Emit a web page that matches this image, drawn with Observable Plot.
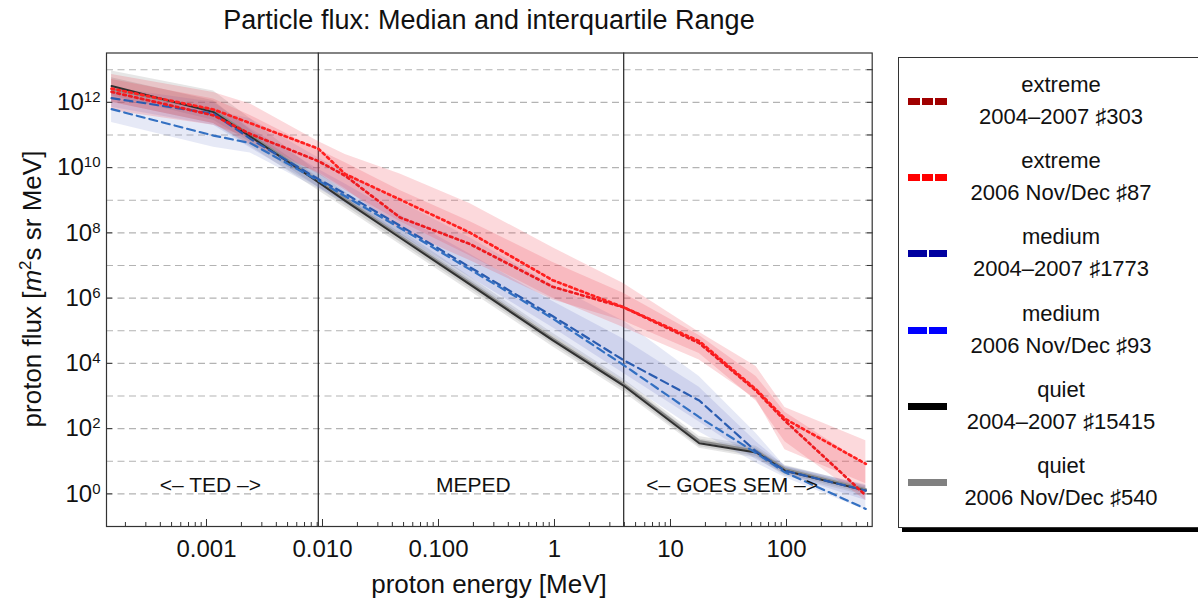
<!DOCTYPE html>
<html>
<head>
<meta charset="utf-8">
<script src="https://cdn.jsdelivr.net/npm/d3@7"></script>
<script src="https://cdn.jsdelivr.net/npm/@observablehq/plot@0.6"></script>
<style>
  body { margin: 0; background: #fff; font-family: "Liberation Sans", Arial, Helvetica, sans-serif; overflow: hidden; }
  #wrap { position: relative; width: 1198px; height: 601px; overflow: hidden; }
  #title { position: absolute; left: 106px; width: 766px; top: 0; height: 40px; box-sizing: border-box; padding-top: 7px;
           text-align: center; font-size: 27px; line-height: 27px; color: #111; }
  #chart { position: absolute; left: 0; top: 40px; }
  #legend { position: absolute; left: 898px; top: 57px; width: 330px; height: 471px; box-sizing: border-box;
            border: 1.3px solid #333; box-shadow: 4px 4px 0 #000; background: #fff; }
  .sw { position: absolute; left: 9px; height: 7px; display: flex; gap: 2px; }
  .sw div { height: 7px; }
  .lt { position: absolute; left: 58px; width: 208px; text-align: center; font-size: 22px; line-height: 22px; color: #111; white-space: nowrap; }
</style>
</head>
<body>
<div id="wrap">
  <div id="title">Particle flux: Median and interquartile Range</div>
  <div id="chart"></div>
  <div id="legend"></div>
</div>
<script>
// ---------------- data ----------------
// energy nodes [MeV]
const energyMeV = [1.52e-4, 1.15e-3, 2.39e-3, 9.2e-3, 1.57e-2, 4.66e-2, 0.186, 0.96, 3.93, 17.7, 54.7, 97, 483];

// log10 of proton flux: medians
const extreme0407Med = [12.32, 11.6, 11.03, 10.2, 9.75, 8.47, 7.66, 6.35, 5.72, 4.62, 3.16, 2.24, -0.05];
const extreme2006Med = [12.42, 11.78, 11.36, 10.58, 9.8, 9.02, 8.01, 6.55, 5.72, 4.68, 3.2, 2.3, 0.92];
const medium0407Med  = [12.13, 11.65, 10.88, 9.65, 9.2, 8.22, 6.95, 5.45, 4.1, 2.86, 1.3, 0.71, 0.10];
const medium2006Med  = [11.79, 10.98, 10.75, 9.6, 9.12, 8.15, 6.88, 5.38, 3.95, 2.35, 1.25, 0.66, -0.46];
const quiet0407Med   = [12.5, 11.7, 10.95, 9.55, 8.98, 7.85, 6.42, 4.71, 3.32, 1.55, 1.27, 0.71, 0.10];
const quiet2006Med   = [12.4, 11.75, 11.0, 9.6, 9.03, 7.9, 6.47, 4.76, 3.37, 1.62, 1.32, 0.76, 0.14];

// log10 of proton flux: interquartile range (lower / upper quartile)
const extreme2006Lo = [11.75, 11.3, 10.9, 9.8, 9.3, 8.35, 7.3, 6.0, 5.1, 4.1, 2.9, 1.35, 0.31];
const extreme2006Hi = [12.85, 12.3, 11.95, 10.8, 10.4, 9.8, 8.9, 7.55, 6.45, 4.95, 3.9, 2.65, 1.63];
const extreme0407Lo = [12.0, 11.35, 10.7, 9.85, 9.35, 8.1, 7.15, 5.95, 5.3, 4.3, 2.85, 1.6, -0.2];
const extreme0407Hi = [12.7, 12.1, 11.6, 10.55, 10.15, 9.3, 8.35, 7.1, 6.15, 4.85, 3.6, 2.5, 0.9];
const medium0407Lo  = [11.85, 11.3, 10.6, 9.4, 8.95, 7.95, 6.65, 5.1, 3.7, 2.2, 1.05, 0.6, -0.2];
const medium0407Hi  = [12.45, 12.0, 11.2, 9.95, 9.5, 8.55, 7.35, 5.9, 4.75, 3.27, 1.6, 0.85, 0.28];
const medium2006Lo  = [11.38, 10.62, 10.45, 9.35, 8.9, 7.85, 6.5, 4.85, 3.45, 1.9, 0.95, 0.5, -0.5];
const medium2006Hi  = [12.3, 11.75, 11.5, 10.3, 9.85, 8.95, 7.85, 6.4, 5.3, 3.6, 1.85, 0.85, 0.25];
const quiet0407Lo   = [12.2, 11.45, 10.78, 9.4, 8.84, 7.72, 6.3, 4.6, 3.2, 1.45, 1.15, 0.6, 0.0];
const quiet0407Hi   = [12.75, 12.05, 11.15, 9.7, 9.13, 8.0, 6.57, 4.85, 3.45, 1.68, 1.4, 0.82, 0.2];
const quiet2006Lo   = [12.0, 11.35, 10.65, 9.3, 8.76, 7.64, 6.22, 4.52, 3.12, 1.4, 1.1, 0.55, -0.05];
const quiet2006Hi   = [12.96, 12.35, 11.5, 9.85, 9.25, 8.1, 6.66, 4.93, 3.52, 1.76, 1.46, 0.88, 0.25];

// instrument boundaries [MeV] and region labels
const boundaryMeV = [0.0092, 3.95];
const regionNames = ["<\u2013 TED \u2013>", "MEPED", "<\u2013 GOES SEM \u2013>"];
const regionCenterMeV = [0.00108, 0.2, 34];
const regionLabelFlux = 1.9;

// axes
const xTickValues = [0.001, 0.01, 0.1, 1, 10, 100];
const xTickLabels = ["0.001", "0.010", "0.100", "1", "10", "100"];
const yTickValues = [1, 1e2, 1e4, 1e6, 1e8, 1e10, 1e12];
const yTickExponents = ["0", "2", "4", "6", "8", "10", "12"];
const yGridValues = [1, 1e1, 1e2, 1e3, 1e4, 1e5, 1e6, 1e7, 1e8, 1e9, 1e10, 1e11, 1e12, 1e13];
const xDomain = [1.374e-4, 548];
const yDomain = [0.1, 3.25e13];

// legend
const legendTitles = ["extreme", "extreme", "medium", "medium", "quiet", "quiet"];
const legendSubtitles = ["2004\u20132007 \u266F303", "2006 Nov/Dec \u266F87", "2004\u20132007 \u266F1773",
                         "2006 Nov/Dec \u266F93", "2004\u20132007 \u266F15415", "2006 Nov/Dec \u266F540"];
const legendColors = ["#a00000", "#ff0000", "#0000a0", "#0000ff", "#000000", "#808080"];
const legendDashCounts = [3, 3, 2, 2, 1, 1];

// ---------------- build ----------------
function rows(med, lo, hi) {
  return energyMeV.map((E, i) => ({E, med: 10 ** med[i], lo: 10 ** lo[i], hi: 10 ** hi[i]}));
}
const quiet0407 = rows(quiet0407Med, quiet0407Lo, quiet0407Hi);
const quiet2006 = rows(quiet2006Med, quiet2006Lo, quiet2006Hi);
const medium0407 = rows(medium0407Med, medium0407Lo, medium0407Hi);
const medium2006 = rows(medium2006Med, medium2006Lo, medium2006Hi);
const extreme0407 = rows(extreme0407Med, extreme0407Lo, extreme0407Hi);
const extreme2006 = rows(extreme2006Med, extreme2006Lo, extreme2006Hi);

const xMinorTicks = [];
for (const dec of [1e-4, 1e-3, 1e-2, 1e-1, 1, 10, 100]) {
  for (let m = 2; m <= 9; m++) {
    const v = m * dec;
    if (v >= xDomain[0] && v <= xDomain[1]) xMinorTicks.push(v);
  }
}
const xLabelMap = new Map(xTickValues.map((v, i) => [v, xTickLabels[i]]));
const yLabelMap = new Map(yTickValues.map((v, i) => [v, "10^" + yTickExponents[i]]));

const band = (data, fill, op) => Plot.areaY(data, {x: "E", y1: "lo", y2: "hi", fill, fillOpacity: op, curve: "linear"});
const line = (data, stroke, dash, w) => Plot.line(data, {x: "E", y: "med", stroke, strokeWidth: w, strokeDasharray: dash, curve: "linear"});

const chart = Plot.plot({
  width: 1198,
  height: 561,
  marginLeft: 106,
  marginRight: 326.3,
  marginTop: 12.5,
  marginBottom: 75,
  style: {fontFamily: '"Liberation Sans", Arial, Helvetica, sans-serif', fontSize: "24px", color: "#111", background: "transparent"},
  x: {type: "log", domain: xDomain, label: null},
  y: {type: "log", domain: yDomain, label: null},
  marks: [
    Plot.ruleY(yGridValues, {stroke: "#b3b3b3", strokeWidth: 1.1, strokeDasharray: "7,4.5"}),
    Plot.ruleX(boundaryMeV, {stroke: "#222", strokeWidth: 1.2}),
    band(quiet2006, "#808080", 0.2),
    band(quiet0407, "#6a6a6a", 0.2),
    band(medium2006, "#6474c8", 0.16),
    band(medium0407, "#5566c0", 0.16),
    band(extreme0407, "#f04050", 0.2),
    band(extreme2006, "#f04050", 0.2),
    line(quiet2006, "#8c8c8c", null, 2.3),
    line(quiet0407, "#303030", null, 2.0),
    line(medium2006, "#3370c2", "8,5", 2.2),
    line(medium0407, "#2a5cb0", "8,5", 2.2),
    line(extreme0407, "#ee1a1f", "2.6,3.4", 2.7),
    line(extreme2006, "#ff2020", "2.6,3.4", 2.7),
    Plot.text(regionNames, {x: (d, i) => regionCenterMeV[i], y: () => regionLabelFlux, text: d => d,
      fontSize: 21, fill: "#111", textAnchor: "middle"}),
    Plot.frame({stroke: "#333", strokeWidth: 1.2}),
    // x axis
    Plot.axisX(xTickValues, {anchor: "bottom", tickSize: 0, tickPadding: 13, tickFormat: d => xLabelMap.get(d), fontSize: 24, label: null}),
    Plot.axisX(xTickValues, {anchor: "bottom", tickSize: -7, tickFormat: () => "", label: null, stroke: "#333"}),
    Plot.axisX(xMinorTicks, {anchor: "bottom", tickSize: -4, tickFormat: () => "", label: null, stroke: "#333"}),
    // y axis
    Plot.axisY(yTickValues, {anchor: "left", tickSize: 0, tickPadding: 6, tickFormat: d => yLabelMap.get(d), fontSize: 24, label: null}),
    Plot.axisY(yTickValues, {anchor: "left", tickSize: -6, tickFormat: () => "", label: null, stroke: "#333"}),
    Plot.axisY(yGridValues, {anchor: "right", tickSize: -6, tickFormat: () => "", label: null, stroke: "#333"})
  ]
});
document.getElementById("chart").appendChild(chart);

// superscripts on y tick labels
const svg = d3.select(chart);
svg.selectAll('g[aria-label="y-axis tick label"] text').each(function () {
  const t = this.textContent;
  if (!t.includes("^")) return;
  const [base, exp] = t.split("^");
  const el = d3.select(this);
  el.text(base);
  el.append("tspan").attr("dy", -8).attr("font-size", 15).text(exp);
});

// axis titles
const yl = svg.append("text")
  .attr("transform", "translate(32,249) rotate(-90)")
  .attr("text-anchor", "middle").attr("dy", "0.35em")
  .attr("font-size", 26).attr("fill", "#111");
yl.append("tspan").text("proton flux [");
yl.append("tspan").attr("font-style", "italic").text("m");
yl.append("tspan").attr("dy", -10).attr("font-size", 17).text("2");
yl.append("tspan").attr("dy", 10).text("s sr MeV]");

svg.append("text")
  .attr("x", 489).attr("y", 553)
  .attr("text-anchor", "middle")
  .attr("font-size", 26).attr("fill", "#111")
  .text("proton energy [MeV]");

// legend
const legend = document.getElementById("legend");
legendTitles.forEach((title, i) => {
  const cy = 43.4 + 76.2 * i;
  const sw = document.createElement("div");
  sw.className = "sw";
  sw.style.top = (cy - 3.5) + "px";
  const n = legendDashCounts[i];
  const segW = n === 3 ? 11.7 : n === 2 ? 18.5 : 39;
  for (let k = 0; k < n; k++) {
    const s = document.createElement("div");
    s.style.width = segW + "px";
    s.style.background = legendColors[i];
    sw.appendChild(s);
  }
  legend.appendChild(sw);
  const l1 = document.createElement("div");
  l1.className = "lt"; l1.style.top = (cy - 16.5 - 11) + "px"; l1.textContent = title;
  const l2 = document.createElement("div");
  l2.className = "lt"; l2.style.top = (cy + 15.5 - 11) + "px"; l2.textContent = legendSubtitles[i];
  legend.appendChild(l1); legend.appendChild(l2);
});
</script>
</body>
</html>
